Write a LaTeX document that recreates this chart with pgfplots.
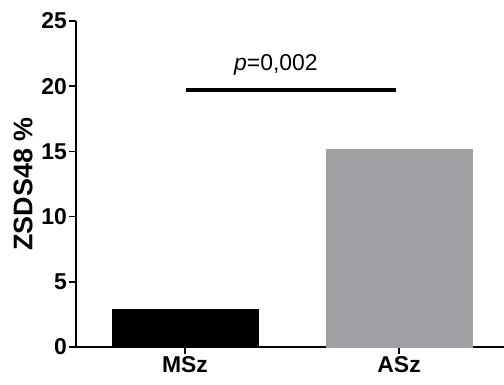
\documentclass[border=0pt]{standalone}
\usepackage{pgfplots}
\pgfplotsset{compat=1.18}
\usepackage{fontspec}
\setmainfont{Liberation Sans}
\definecolor{bargray}{RGB}{160,160,164}
\begin{document}
\begin{tikzpicture}
\begin{axis}[
  scale only axis, width=428bp, height=326bp,
  xmin=-0.509, xmax=1.49, ymin=0, ymax=25,
  axis lines=left,
  axis line style={-, line width=1.6bp},
  xtick={0,1}, xticklabels={MSz,ASz},
  ytick={0,5,...,25},
  tick align=outside, major tick length=7bp,
  tick style={line width=1.6bp, black},
  yticklabel style={font=\fontsize{23}{23}\selectfont\bfseries, inner sep=2bp},
  xticklabel style={font=\fontsize{23}{23}\selectfont\bfseries, inner sep=2bp},
  /pgf/number format/assume math mode=true,
  ylabel={ZSDS48 \%},
  ylabel style={font=\fontsize{27}{27}\selectfont\bfseries, at={(axis description cs:0,0.5)}, anchor=center, yshift=53bp},
  clip=false,
]
\addplot[ybar, bar width=146bp, bar shift=0pt, fill=black, draw=black] coordinates {(0,2.9)};
\addplot[ybar, bar width=146bp, bar shift=0pt, fill=bargray, draw=bargray] coordinates {(1,15.2)};
\addplot[line width=4bp, black] coordinates {(0.005,19.7) (0.985,19.7)};
\node at (axis cs:0.425,21.6) {\fontsize{23}{23}\selectfont\textit{p}=0,002};
\end{axis}
\pgfresetboundingbox
\path[use as bounding box] ([shift={(-76bp,-38bp)}]current axis.south west) rectangle ([shift={(0bp,21bp)}]current axis.north east);
\end{tikzpicture}
\end{document}
